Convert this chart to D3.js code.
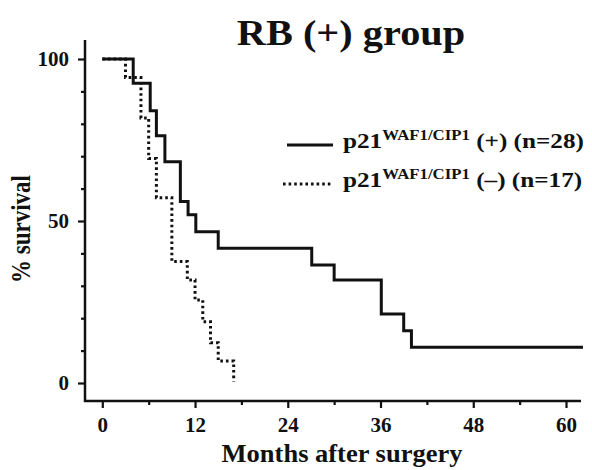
<!DOCTYPE html>
<html><head><meta charset="utf-8">
<script src="https://cdn.jsdelivr.net/npm/d3@7"></script>
<style>
html,body{margin:0;padding:0;background:#fff;}
svg{display:block;}
text{font-family:"Liberation Serif","Times New Roman",serif;font-weight:bold;fill:#111;}
</style></head><body>
<script>
// Data
const posMonths = [0, 4, 6.2, 7, 8.1, 10.1, 11.1, 12.1, 15, 27.1, 30, 36.1, 39, 40, 62.2];
const posSurvival = [100, 92.5, 84, 76.3, 68.3, 56, 51.9, 46.7, 41.6, 36.4, 31.8, 21.3, 16.1, 11.0, 11.0];
const negMonths = [0, 3, 5, 6, 7, 9, 11, 12, 13, 14, 15, 17];
const negSurvival = [100, 94.3, 81.8, 69.3, 57.2, 37.5, 31.8, 25.6, 18.9, 12.4, 6.8, 0.4];
const xTicks = [0, 12, 24, 36, 48, 60];
const xMinor = [6, 18, 30, 42, 54];
const yTicks = [0, 50, 100];
const yMinor = [10, 20, 30, 40, 60, 70, 80, 90];
const title = "RB (+) group";
const xLabel = "Months after surgery";
const yLabel = "% survival";
const legendItems = [
  {name: "p21", sup: "WAF1/CIP1", rest: " (+) (n=28)", dash: null},
  {name: "p21", sup: "WAF1/CIP1", rest: " (\u2013) (n=17)", dash: "2.6,3"}
];

const W = 592, H = 470;
const svg = d3.select("body").append("svg").attr("width", W).attr("height", H);
const x = d3.scaleLinear().domain([0, 60]).range([102.3, 566]);
const y = d3.scaleLinear().domain([0, 100]).range([383, 59]);

// axis lines
svg.append("line").attr("x1", 85).attr("x2", 85).attr("y1", 40).attr("y2", 402)
  .attr("stroke", "#111").attr("stroke-width", 2.5);
svg.append("line").attr("x1", 84).attr("x2", 581).attr("y1", 401).attr("y2", 401)
  .attr("stroke", "#111").attr("stroke-width", 2.5);

// x axis
const xg = svg.append("g").attr("transform", "translate(0,401)")
  .call(d3.axisBottom(x).tickValues(xTicks).tickSize(7).tickPadding(9).tickFormat(d3.format("d")));
const xm = svg.append("g").attr("transform", "translate(0,401)")
  .call(d3.axisBottom(x).tickValues(xMinor).tickSize(4).tickFormat(""));
// y axis
const yg = svg.append("g").attr("transform", "translate(85,0)")
  .call(d3.axisLeft(y).tickValues(yTicks).tickSize(7).tickPadding(9).tickFormat(d3.format("d")));
const ym = svg.append("g").attr("transform", "translate(85,0)")
  .call(d3.axisLeft(y).tickValues(yMinor).tickSize(4).tickFormat(""));
[xg, xm, yg, ym].forEach(g => {
  g.select(".domain").remove();
  g.selectAll(".tick line").attr("stroke", "#111").attr("stroke-width", 2.2);
  g.selectAll("text").attr("font-size", 21).style("font-family", '"Liberation Serif",serif')
    .style("font-weight", "bold").attr("fill", "#111");
});

// curves
const line = d3.line().x(d => x(d[0])).y(d => y(d[1])).curve(d3.curveStepAfter);
const posData = posMonths.map((m, i) => [m, posSurvival[i]]);
const negData = negMonths.map((m, i) => [m, negSurvival[i]]);
svg.append("path").datum(negData).attr("d", line).attr("fill", "none")
  .attr("stroke", "#111").attr("stroke-width", 3).attr("stroke-dasharray", "2.6,3");
svg.append("path").datum(posData).attr("d", line).attr("fill", "none")
  .attr("stroke", "#111").attr("stroke-width", 3);

// title
svg.append("text").attr("transform", "translate(351,45) scale(1.12,1)").attr("text-anchor", "middle")
  .attr("font-size", 36).text(title);
// axis labels
svg.append("text").attr("transform", "translate(342,462) scale(1.06,1)").attr("text-anchor", "middle")
  .attr("font-size", 25).text(xLabel);
svg.append("text").attr("transform", "translate(30,229) rotate(-90) scale(1,1.2)").attr("text-anchor", "middle")
  .attr("font-size", 23).text(yLabel);

// legend
const lg = svg.selectAll(".leg").data(legendItems).enter().append("g")
  .attr("transform", (d, i) => `translate(0,${[148, 187][i]})`);
lg.append("line").attr("x1", (d, i) => i ? 283 : 287).attr("x2", 333).attr("y1", -3).attr("y2", -3)
  .attr("stroke", "#111").attr("stroke-width", 3).attr("stroke-dasharray", d => d.dash);
const t = lg.append("text").attr("transform", "translate(343,0) scale(1.2,1)").attr("font-size", 21);
t.append("tspan").text(d => d.name);
t.append("tspan").attr("font-size", 14).attr("dy", -8).text(d => d.sup);
t.append("tspan").attr("dy", 8).text(d => d.rest);
</script>
</body></html>
